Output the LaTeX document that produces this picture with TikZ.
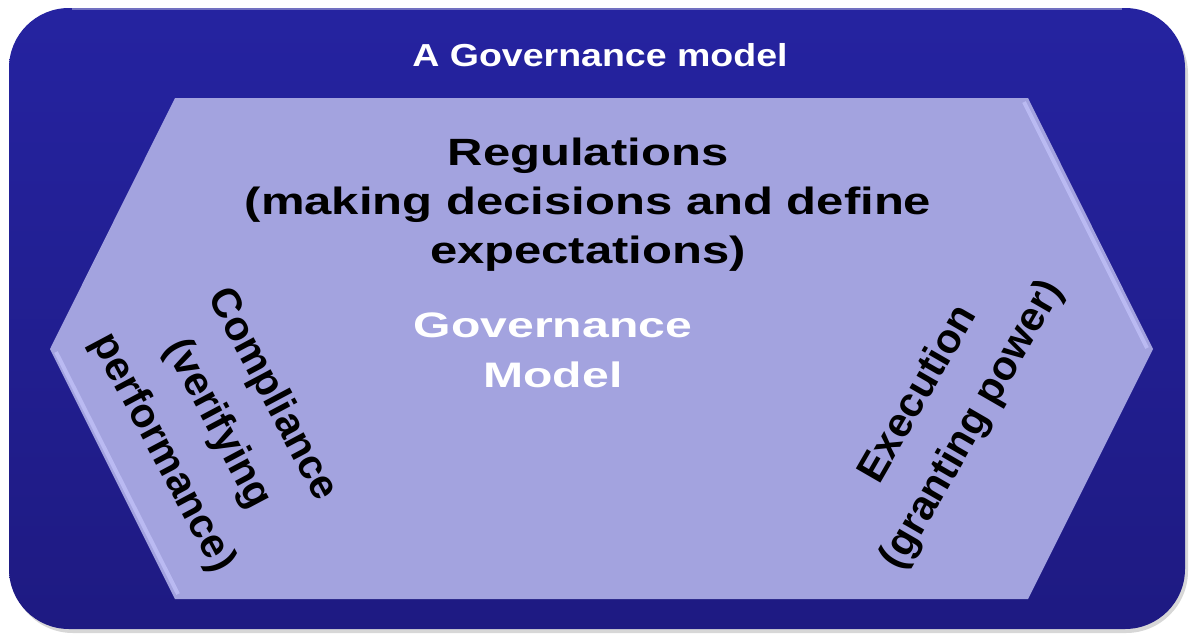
\documentclass[tikz,border=0pt]{standalone}
\usepackage{fontspec}
\setmainfont{Liberation Sans}
\newfontfamily\titlefont{Liberation Sans}[FakeStretch=1.18]
\newfontfamily\regfont{Liberation Sans}[FakeStretch=1.29]
\newfontfamily\govfont{Liberation Sans}[FakeStretch=1.36]
\usetikzlibrary{positioning}
\definecolor{frameblue}{HTML}{2523A0}
\definecolor{framedeep}{HTML}{1E1A82}
\definecolor{hexlav}{HTML}{A3A3DF}
\definecolor{hexedge}{HTML}{BABAF2}

\begin{document}
\begin{tikzpicture}[x=0.5pt, y=-0.5pt,
  hdr/.style={align=center, inner sep=0pt, text=white, font=\titlefont\bfseries\fontsize{15.9}{19}\selectfont},
  reg/.style={align=center, inner sep=0pt, font=\regfont\bfseries\fontsize{19}{24.5}\selectfont},
  gov/.style={align=center, inner sep=0pt, text=white, font=\govfont\bfseries\fontsize{17.7}{25}\selectfont},
  side/.style={align=center, inner sep=0pt, font=\bfseries\fontsize{20.6}{31}\selectfont}]
  \useasboundingbox (0,0) rectangle (1190,633);
  % frame
  \fill[black!35, opacity=.45, rounded corners=31pt] (11,12) rectangle (1188,633);
  \shade[top color=frameblue, bottom color=framedeep, rounded corners=30pt] (9,8) rectangle (1185,629);
  \draw[frameblue!65!white, line width=1pt] (72,9) -- (1122,9);
  % hexagon
  \fill[hexlav] (175,98) -- (1028,98) -- (1153,349) -- (1028,599) -- (175,599) -- (50,349) -- cycle;
  \draw[hexedge, line width=2pt] (56,352) -- (178,594);
  \draw[hexedge, line width=2pt] (1024,102) -- (1147,348);
  % labels
  \node[hdr] (title) at (600,55) {A Governance model};
  \node[reg] (reg) at (588,205) {Regulations\\(making decisions and define\\expectations)};
  \node[gov] (gov) at (553,350) {Governance\\Model};
  \node[side, rotate=-62] (comp) at (217,424) {Compliance\\(verifying\\performance)};
  \node[side, rotate=60] (exec) at (946,410) {Execution\\(granting power)};
\end{tikzpicture}
\end{document}
